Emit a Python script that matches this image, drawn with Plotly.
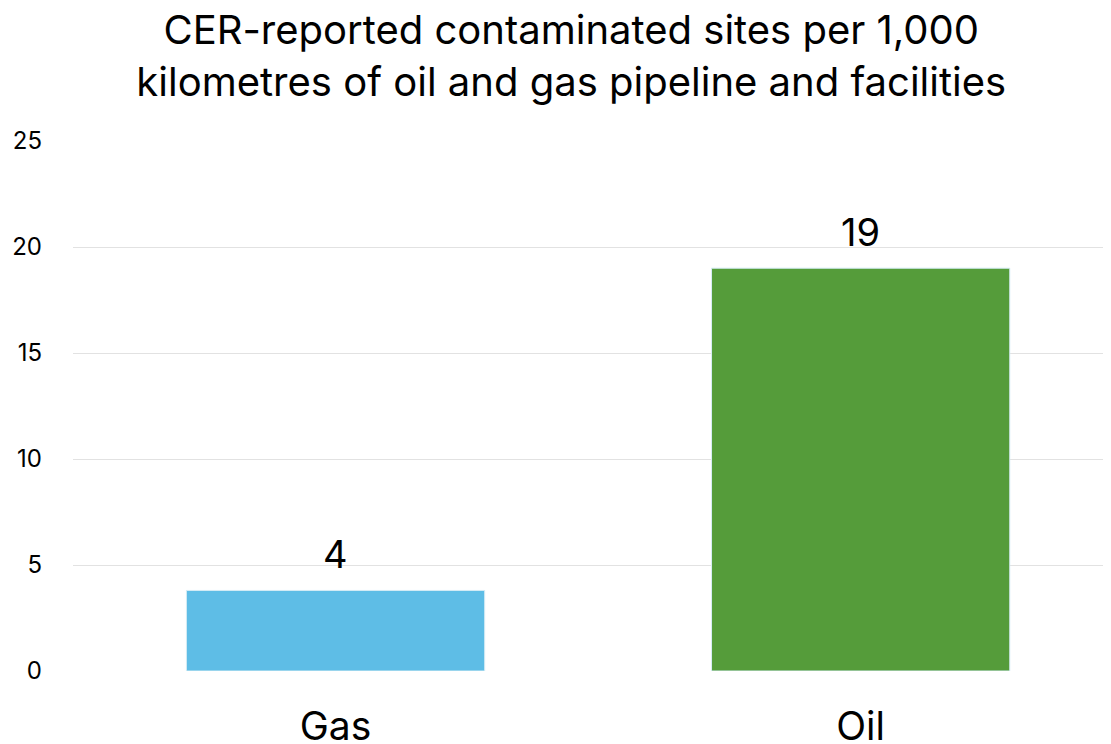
import plotly.graph_objects as go

categories = ["Gas", "Oil"]
values = [3.8, 19.0]
labels = ["4", "19"]
colors = ["#5EBDE6", "#559C3A"]
y_ticks = [0, 5, 10, 15, 20, 25]

FONT = "Inter, Liberation Sans, Arial, sans-serif"

fig = go.Figure()
fig.add_trace(go.Bar(
    x=categories, y=values,
    marker=dict(color=colors, line=dict(color="#D6ECF5", width=1)),
    width=0.568, hoverinfo="x+y",
))

for c, v, t in zip(categories, values, labels):
    fig.add_annotation(x=c, y=v, text=t, showarrow=False, yanchor="bottom",
                       yshift=11, font=dict(size=38, color="black", family=FONT))

# page has an 8px body margin; coordinates below compensate for it
fig.update_layout(
    width=1111, height=744,
    margin=dict(l=65, r=0, t=133, b=81),
    plot_bgcolor="white", paper_bgcolor="white",
    font=dict(family=FONT, color="black"),
    title=dict(
        text="CER-reported contaminated sites per 1,000<br>kilometres of oil and gas pipeline and facilities",
        x=0.507, xref="container", xanchor="center",
        y=0.951, yref="container", yanchor="middle",
        font=dict(size=40, color="black", family=FONT),
    ),
    showlegend=False,
    xaxis=dict(range=[-0.5, 1.492], tickfont=dict(size=39), ticklabelstandoff=29,
               showgrid=False, showline=False, ticks=""),
    yaxis=dict(range=[0, 25], tickvals=y_ticks, tickfont=dict(size=24),
               gridcolor="#E2E2E2", gridwidth=1.3, zeroline=False,
               ticklabelstandoff=30, showline=False),
)

fig.write_html("out.html")
